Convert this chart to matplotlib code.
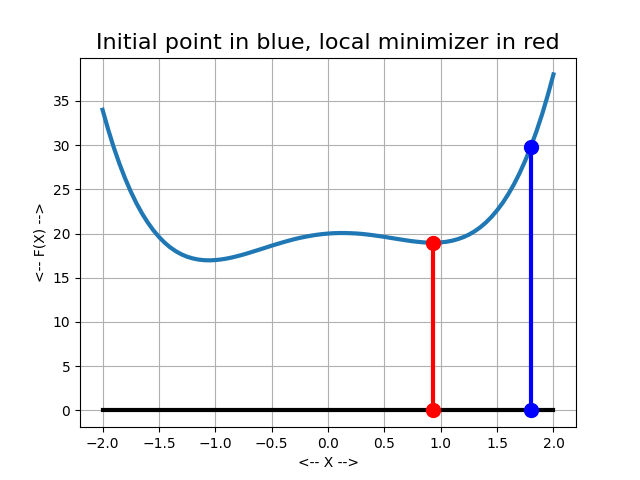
import matplotlib
matplotlib.use('Agg')
import matplotlib.pyplot as plt

# curve samples (every 0.05 in x)
x_vals = [-2.00, -1.95, -1.90, -1.85, -1.80, -1.75, -1.70, -1.65, -1.60, -1.55,
          -1.50, -1.45, -1.40, -1.35, -1.30, -1.25, -1.20, -1.15, -1.10, -1.05,
          -1.00, -0.95, -0.90, -0.85, -0.80, -0.75, -0.70, -0.65, -0.60, -0.55,
          -0.50, -0.45, -0.40, -0.35, -0.30, -0.25, -0.20, -0.15, -0.10, -0.05,
          0.00, 0.05, 0.10, 0.15, 0.20, 0.25, 0.30, 0.35, 0.40, 0.45,
          0.50, 0.55, 0.60, 0.65, 0.70, 0.75, 0.80, 0.85, 0.90, 0.95,
          1.00, 1.05, 1.10, 1.15, 1.20, 1.25, 1.30, 1.35, 1.40, 1.45,
          1.50, 1.55, 1.60, 1.65, 1.70, 1.75, 1.80, 1.85, 1.90, 1.95, 2.00]
f_vals = [34.00, 31.76, 29.72, 27.89, 26.24, 24.76, 23.44, 22.28, 21.27, 20.38,
          19.63, 18.98, 18.44, 18.00, 17.65, 17.38, 17.19, 17.06, 16.99, 16.97,
          17.00, 17.07, 17.17, 17.30, 17.46, 17.63, 17.82, 18.02, 18.22, 18.42,
          18.63, 18.82, 19.01, 19.19, 19.36, 19.51, 19.64, 19.76, 19.86, 19.94,
          20.00, 20.04, 20.06, 20.06, 20.04, 20.01, 19.96, 19.89, 19.81, 19.72,
          19.63, 19.52, 19.42, 19.32, 19.22, 19.13, 19.06, 19.00, 18.97, 18.97,
          19.00, 19.07, 19.19, 19.36, 19.59, 19.88, 20.25, 20.70, 21.24, 21.88,
          22.63, 23.48, 24.47, 25.58, 26.84, 28.26, 29.84, 31.59, 33.52, 35.66, 38.00]

x_init, f_init = 1.8, 29.84
x_min, f_min = 0.93, 18.97

fig, ax = plt.subplots(figsize=(6.4, 4.8), dpi=100)
ax.plot(x_vals, f_vals, linewidth=3, solid_joinstyle='round')
ax.plot([x_vals[0], x_vals[-1]], [0, 0], 'k-', linewidth=3)
ax.plot([x_min, x_min], [0, f_min], 'r-', linewidth=3)
ax.plot([x_min, x_min], [0, f_min], 'ro', markersize=10)
ax.plot([x_init, x_init], [0, f_init], 'b-', linewidth=3)
ax.plot([x_init, x_init], [0, f_init], 'bo', markersize=10)
ax.grid(True)
ax.set_xlabel('<-- X -->')
ax.set_ylabel('<-- F(X) -->')
ax.set_title('Initial point in blue, local minimizer in red', fontsize=16)
plt.savefig('out.png')
